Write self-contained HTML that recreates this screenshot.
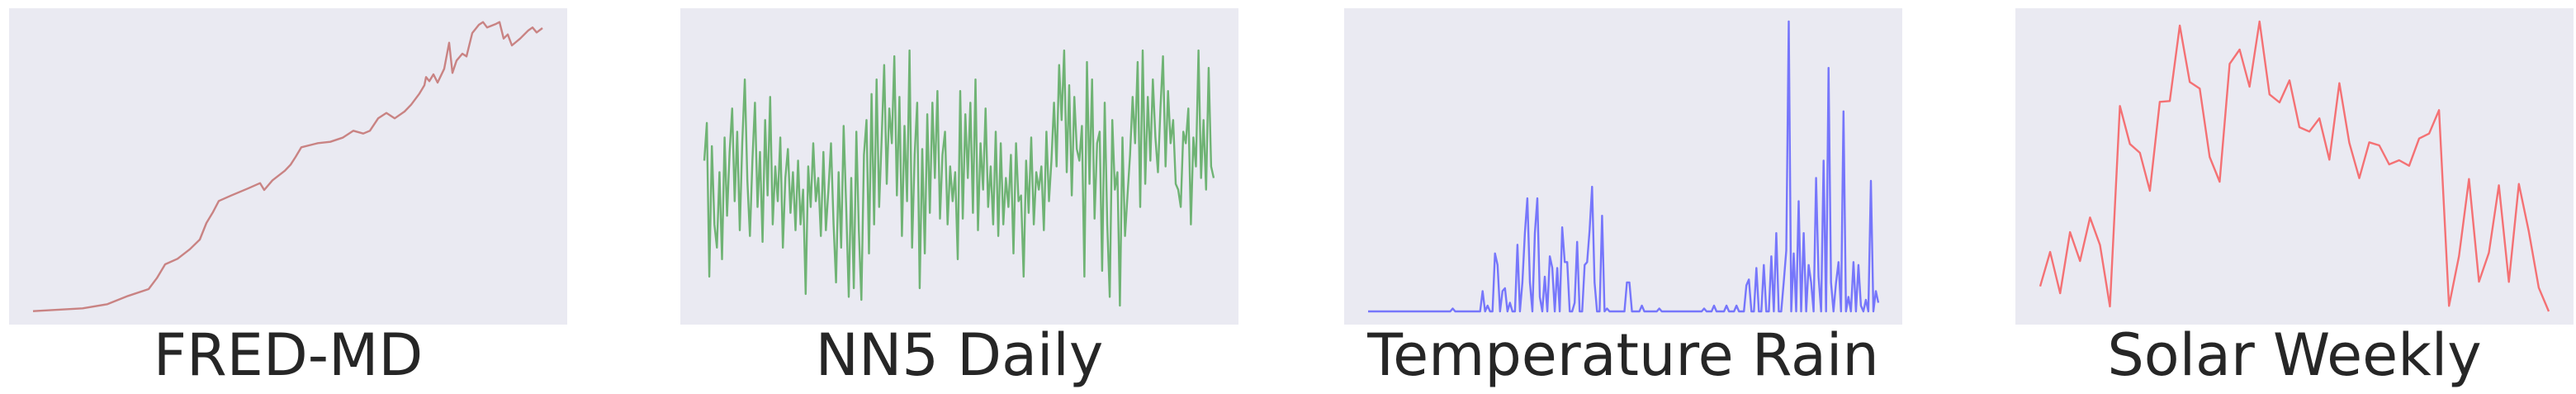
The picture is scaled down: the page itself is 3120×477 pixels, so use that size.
<!DOCTYPE html>
<html><head><meta charset="utf-8">
<style>
html,body{margin:0;padding:0;background:#fff;width:3120px;height:477px;overflow:hidden}
svg{display:block}
text{font-family:"DejaVu Sans","Liberation Sans",sans-serif;fill:#262626}
</style></head>
<body>
<svg id="chart" width="3120" height="477" viewBox="0 0 3120 477" xmlns="http://www.w3.org/2000/svg"></svg>
<script>
// ---- data ----
const panelTitles = ["FRED-MD", "NN5 Daily", "Temperature Rain", "Solar Weekly"];
const fredX = [0,60,90,115,140,150,160,175,190,202,210,218,225,240,260,275,280,290,305,312,318,325,345,360,375,388,400,408,418,428,438,450,458,468,474,476,480,485,490,498,504,508,513,520,525,532,540,545,550,560,565,570,575,580,590,600,605,610,617];
const fredY = [1,11,26,56,81,121,171,191,226,261,321,361,401,421,446,466,441,476,511,533,561,596,611,616,631,656,646,656,701,721,701,726,751,791,821,851,836,861,831,881,976,866,911,936,926,1011,1041,1051,1031,1043,1051,991,1006,966,991,1021,1031,1013,1029];
const nn5Values = [52,65,12,57,30,22,48,18,60,33,55,70,38,62,28,58,80,45,26,52,72,36,55,24,66,40,74,30,50,38,60,22,46,56,34,48,28,52,30,42,6,50,36,58,38,46,26,55,28,42,58,30,10,48,22,64,36,5,46,8,62,28,4,54,66,20,75,30,80,36,60,85,44,70,58,88,40,74,26,64,38,90,22,54,72,8,56,20,68,34,72,46,76,32,54,62,30,50,38,48,18,76,32,68,46,72,34,80,28,58,42,70,36,50,30,62,26,58,30,46,36,54,20,58,38,40,12,52,34,60,30,48,42,50,28,62,38,52,72,50,85,66,90,48,78,40,74,56,52,64,12,86,44,80,32,58,62,14,72,30,5,66,42,48,2,60,26,40,54,74,58,86,36,90,44,74,52,80,60,48,70,88,50,76,58,66,44,42,36,62,58,70,30,60,50,90,46,66,42,84,50,46];
const rainIdx = [34,46,48,51,52,54,55,57,60,62,63,64,65,67,68,69,71,73,74,76,78,79,80,83,84,87,88,89,90,91,94,96,104,105,110,117,135,139,144,148,152,153,156,159,162,164,167,168,169,171,173,175,177,178,180,181,183,185,186,188,189,191,193,195,197,198,200,202,204,205];
const rainVal = [1,7,2,20,16,7,8,3,23,10,27,39,10,27,39,5,12,19,15,15,29,17,17,3,24,16,17,28,43,10,33,1,10,10,2,1,1,2,2,2,9,11,15,16,19,27,10,21,100,20,38,27,16,10,46,12,52,84,10,10,17,69,5,17,16,2,4,45,7,3];
const rainLength = 206;
const solarValues = [91,216,66,288,183,341,241,18,746,608,576,438,761,764,1038,833,809,561,471,899,951,816,1053,788,759,839,669,653,701,551,829,613,484,614,603,534,549,529,628,646,731,20,201,481,108,213,458,107,463,291,86,0];

// ---- layout ----
const svg = document.getElementById('chart');
const NS = 'http://www.w3.org/2000/svg';
const panelLeft = [11, 824, 1628, 2441];
const panelW = 676, panelTop = 10, panelH = 383;
const yTopPx = 26, yBotPx = 377;
const colors = ["#c98383", "#6fb374", "#7676fb", "#f47174"];

function makeScale(d0, d1, r0, r1){ return v => r0 + (v - d0) / (d1 - d0) * (r1 - r0); }

function drawPanel(i, xs, ys, xMin, xMax, yMax, x0off, x1off, name){
  const g = document.createElementNS(NS,'g');
  
  
  svg.appendChild(g);
  const bg = document.createElementNS(NS,'rect');
  
  
  bg.setAttribute('x', panelLeft[i]); bg.setAttribute('y', panelTop);
  bg.setAttribute('width', panelW); bg.setAttribute('height', panelH);
  bg.setAttribute('fill', '#eaeaf2');
  g.appendChild(bg);
  const sx = makeScale(xMin, xMax, panelLeft[i] + x0off, panelLeft[i] + x1off);
  const sy = makeScale(0, yMax, yBotPx, yTopPx);
  let d = '';
  for (let k = 0; k < xs.length; k++) d += (k ? 'L' : 'M') + sx(xs[k]).toFixed(1) + ' ' + sy(ys[k]).toFixed(1);
  const p = document.createElementNS(NS,'path');
  
  
  p.setAttribute('d', d);
  p.setAttribute('fill', 'none');
  p.setAttribute('stroke', colors[i]);
  p.setAttribute('stroke-width', '2.4');
  p.setAttribute('stroke-linejoin', 'round');
  g.appendChild(p);
  const t = document.createElementNS(NS,'text');
  
  
  t.setAttribute('x', panelLeft[i] + panelW / 2);
  t.setAttribute('y', 454);
  t.setAttribute('text-anchor', 'middle');
  t.setAttribute('font-size', '70');
  t.textContent = panelTitles[i];
  g.appendChild(t);
}

// FRED-MD
drawPanel(0, fredX, fredY, 0, 617, 1053, 29, 646, 'fred-md');
// NN5
const nn5X = nn5Values.map((v, k) => k);
drawPanel(1, nn5X, nn5Values, 0, nn5Values.length - 1, 100, 29, 646, 'nn5-daily');
// Temperature rain
const rainSeries = new Array(rainLength).fill(0);
rainIdx.forEach((ix, k) => { rainSeries[ix] = rainVal[k]; });
const rainX = rainSeries.map((v, k) => k);
drawPanel(2, rainX, rainSeries, 0, rainLength - 1, 100, 29, 647, 'temperature-rain');
// Solar weekly
const solarX = solarValues.map((v, k) => k);
drawPanel(3, solarX, solarValues, 0, solarValues.length - 1, 1053, 30, 646, 'solar-weekly');
</script>
</body></html>
